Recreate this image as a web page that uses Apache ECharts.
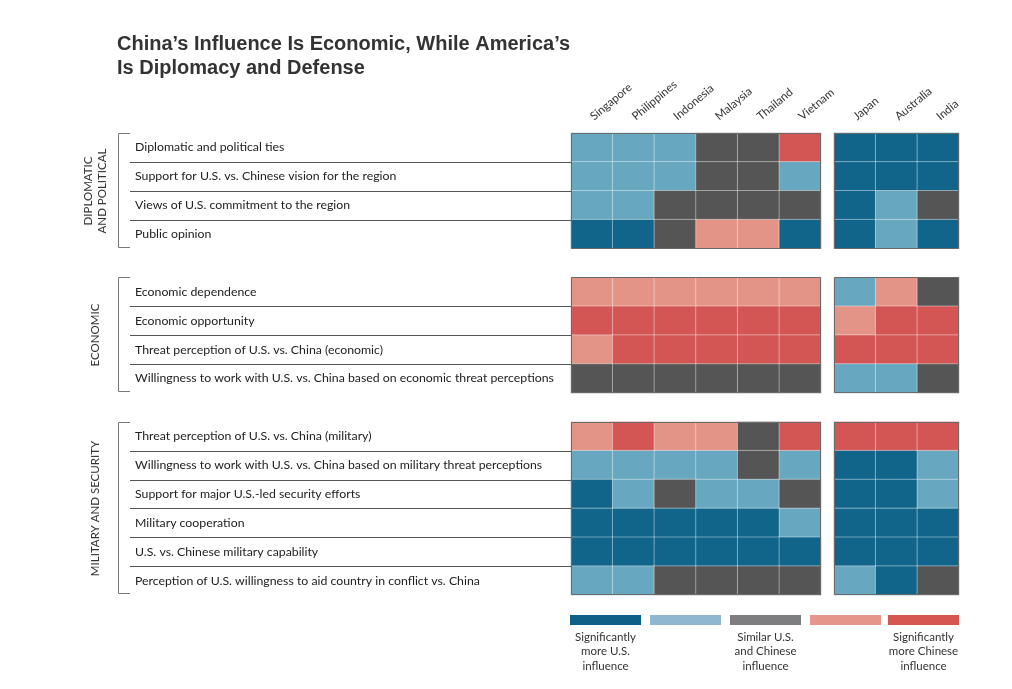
<!DOCTYPE html>
<html>
<head>
<meta charset="utf-8">
<script src="https://cdn.jsdelivr.net/npm/echarts@6/dist/echarts.min.js"></script>
<style>
html,body{margin:0;padding:0;background:#fff;}
#chart{width:1012px;height:689px;}
</style>
</head>
<body>
<div id="chart"></div>
<script>
// ---- data ----
const titleText = 'China\u2019s Influence Is Economic, While America\u2019s\nIs Diplomacy and Defense';
const seaCountries = ['Singapore', 'Philippines', 'Indonesia', 'Malaysia', 'Thailand', 'Vietnam'];
const otherCountries = ['Japan', 'Australia', 'India'];
const groupNames = ['DIPLOMATIC\nAND POLITICAL', 'ECONOMIC', 'MILITARY AND SECURITY'];

const diplomaticRows = [
  'Diplomatic and political ties',
  'Support for U.S. vs. Chinese vision for the region',
  'Views of U.S. commitment to the region',
  'Public opinion'
];
const economicRows = [
  'Economic dependence',
  'Economic opportunity',
  'Threat perception of U.S. vs. China (economic)',
  'Willingness to work with U.S. vs. China based on economic threat perceptions'
];
const militaryRows = [
  'Threat perception of U.S. vs. China (military)',
  'Willingness to work with U.S. vs. China based on military threat perceptions',
  'Support for major U.S.-led security efforts',
  'Military cooperation',
  'U.S. vs. Chinese military capability',
  'Perception of U.S. willingness to aid country in conflict vs. China'
];

// 1 = significantly more U.S. ... 3 = similar ... 5 = significantly more Chinese
const diplomaticSEA = [
  [2, 2, 2, 3, 3, 5],
  [2, 2, 2, 3, 3, 2],
  [2, 2, 3, 3, 3, 3],
  [1, 1, 3, 4, 4, 1]
];
const diplomaticOther = [
  [1, 1, 1],
  [1, 1, 1],
  [1, 2, 3],
  [1, 2, 1]
];
const economicSEA = [
  [4, 4, 4, 4, 4, 4],
  [5, 5, 5, 5, 5, 5],
  [4, 5, 5, 5, 5, 5],
  [3, 3, 3, 3, 3, 3]
];
const economicOther = [
  [2, 4, 3],
  [4, 5, 5],
  [5, 5, 5],
  [2, 2, 3]
];
const militarySEA = [
  [4, 5, 4, 4, 3, 5],
  [2, 2, 2, 2, 3, 2],
  [1, 2, 3, 2, 2, 3],
  [1, 1, 1, 1, 1, 2],
  [1, 1, 1, 1, 1, 1],
  [2, 2, 3, 3, 3, 3]
];
const militaryOther = [
  [5, 5, 5],
  [1, 1, 2],
  [1, 1, 2],
  [1, 1, 1],
  [1, 1, 1],
  [2, 1, 3]
];

const levelValues = [1, 2, 3, 4, 5];
const levelLabels = ['Significantly\nmore U.S.\ninfluence', '', 'Similar U.S.\nand Chinese\ninfluence', '', 'Significantly\nmore Chinese\ninfluence'];

// ---- styles ----
const cellColors = ['#11658a', '#67a7c0', '#555555', '#e39486', '#d45654'];
const legendColors = ['#106187', '#8fb8d0', '#7e7e80', '#e4968a', '#d65652'];
const FONT = 'Lato';

// ---- build category axis with spacer rows between groups ----
const groupRows = [diplomaticRows, economicRows, militaryRows];
const groupSEA = [diplomaticSEA, economicSEA, militarySEA];
const groupOther = [diplomaticOther, economicOther, militaryOther];
const yCats = [];
const groupSpans = [];
const seaData = [];
const otherData = [];
groupRows.forEach((rows, g) => {
  if (g > 0) yCats.push(' '.repeat(g));
  const start = yCats.length;
  rows.forEach((r, i) => {
    const yi = yCats.length;
    yCats.push(r);
    groupSEA[g][i].forEach((v, x) => seaData.push([x, yi, v]));
    groupOther[g][i].forEach((v, x) => otherData.push([x, yi, v]));
  });
  groupSpans.push([g, start, yCats.length - 1]);
});

const chart = echarts.init(document.getElementById('chart'), null, {renderer: 'canvas'});

function frame(params, api) {
  const cs = params.coordSys;
  const h = api.size([0, 1])[1];
  const top = Math.round(api.coord([0, api.value(1)])[1] - h / 2);
  const bot = Math.round(api.coord([0, api.value(2)])[1] + h / 2);
  return {
    type: 'rect',
    shape: {x: cs.x + 0.5, y: top + 0.5, width: cs.width - 1, height: bot - top - 1},
    style: {fill: 'none', stroke: '#6a6a6a', lineWidth: 1},
    z2: 20
  };
}

function leftDecor(params, api) {
  const cs = params.coordSys;
  const g = api.value(0);
  const s = api.value(1), e = api.value(2);
  const h = api.size([0, 1])[1];
  const top = Math.round(api.coord([0, s])[1] - h / 2);
  const bot = Math.round(api.coord([0, e])[1] + h / 2);
  const children = [frame(params, api)];
  const lineStart = cs.x - 441;
  for (let r = s + 1; r <= e; r++) {
    const y = Math.round(api.coord([0, r])[1] - h / 2) + 0.5;
    children.push({type: 'line', shape: {x1: lineStart, y1: y, x2: cs.x, y2: y}, style: {stroke: '#555', lineWidth: 1}});
  }
  const bx = cs.x - 452.5;
  children.push({
    type: 'polyline',
    shape: {points: [[lineStart, top + 0.5], [bx, top + 0.5], [bx, bot - 1.5], [lineStart, bot - 1.5]]},
    style: {stroke: '#777', lineWidth: 1, fill: 'none'}
  });
  children.push({
    type: 'text',
    x: cs.x - 476, y: (top + bot) / 2,
    rotation: Math.PI / 2,
    style: {text: groupNames[g], fill: '#333', fontSize: 11.5, fontFamily: FONT, align: 'center', verticalAlign: 'middle', lineHeight: 14}
  });
  return {type: 'group', children};
}

const yAxisCommon = {
  type: 'category', data: yCats, inverse: true,
  axisLine: {show: false}, axisTick: {show: false}, splitLine: {show: false}
};
const xAxisCommon = {
  type: 'category', position: 'top',
  axisLine: {show: false}, axisTick: {show: false}, splitLine: {show: false},
  axisLabel: {rotate: -40, margin: 15, fontSize: 11.5, fontFamily: FONT, color: '#333', interval: 0}
};

// legend graphic
const legendX = [570, 650, 730, 810, 888];
const legendGraphic = [];
levelValues.forEach((v, i) => {
  legendGraphic.push({type: 'rect', left: legendX[i], top: 615, shape: {width: 71, height: 10}, style: {fill: legendColors[i]}});
  if (levelLabels[i]) {
    legendGraphic.push({type: 'text', x: legendX[i] + 35.5, y: 630,
      style: {text: levelLabels[i], fill: '#333', fontSize: 11.5, fontFamily: FONT, align: 'center', verticalAlign: 'top', lineHeight: 14.5}});
  }
});

chart.setOption({
  backgroundColor: '#fff',
  animation: false,
  title: {
    text: titleText, left: 112, top: 27,
    textStyle: {fontFamily: 'Liberation Sans', fontWeight: 'bold', fontSize: 20, color: '#333', lineHeight: 24}
  },
  grid: [
    {left: 571, top: 133, width: 250, height: 462},
    {left: 834, top: 133, width: 125, height: 462}
  ],
  xAxis: [
    Object.assign({}, xAxisCommon, {gridIndex: 0, data: seaCountries}),
    Object.assign({}, xAxisCommon, {gridIndex: 1, data: otherCountries})
  ],
  yAxis: [
    Object.assign({}, yAxisCommon, {gridIndex: 0,
      axisLabel: {align: 'left', margin: 436, fontSize: 12.3, fontFamily: FONT, color: '#222', interval: 0}}),
    Object.assign({}, yAxisCommon, {gridIndex: 1, axisLabel: {show: false}})
  ],
  visualMap: {
    type: 'piecewise', show: false, seriesIndex: [0, 1], dimension: 2,
    pieces: levelValues.map((v, i) => ({value: v, color: cellColors[i]}))
  },
  graphic: legendGraphic,
  series: [
    {type: 'heatmap', xAxisIndex: 0, yAxisIndex: 0, data: seaData,
      itemStyle: {borderColor: 'rgba(255,255,255,0.4)', borderWidth: 1}},
    {type: 'heatmap', xAxisIndex: 1, yAxisIndex: 1, data: otherData,
      itemStyle: {borderColor: 'rgba(255,255,255,0.4)', borderWidth: 1}},
    {type: 'custom', xAxisIndex: 0, yAxisIndex: 0, data: groupSpans, renderItem: leftDecor, clip: false, silent: true, z: 5},
    {type: 'custom', xAxisIndex: 1, yAxisIndex: 1, data: groupSpans, renderItem: frame, clip: false, silent: true, z: 5}
  ]
});
</script>
</body>
</html>
